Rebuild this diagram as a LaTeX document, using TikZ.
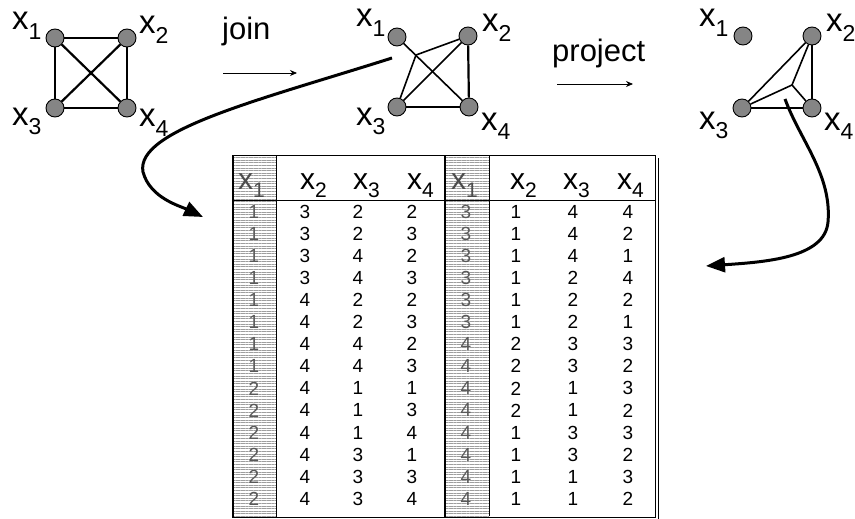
\documentclass[tikz,border=0pt]{standalone}
\usepackage{fontspec}
\setmainfont{Liberation Sans}
\usetikzlibrary{arrows.meta,patterns.meta}

% variable with a dropped subscript, Helvetica style
\newcommand{\vlab}[3]{{\fontsize{#1}{#1}\selectfont x\raisebox{-0.30em}{\fontsize{#2}{#2}\selectfont #3}}}

\begin{document}
\begin{tikzpicture}[x=1pt,y=-1pt,
  vertex/.style={circle,draw=black,line width=0.9pt,fill=black!48,minimum size=18pt,inner sep=0pt},
  edge/.style={line width=2.2pt},
  thinedge/.style={line width=1.6pt},
  vlabel/.style={anchor=base west,inner sep=0pt},
  bigarrow/.style={line width=3pt,-{Triangle[length=19pt,width=15pt]}},
  oparrow/.style={line width=0.8pt,-{Stealth[length=7pt,width=6pt]}},
  oplabel/.style={font=\fontsize{31}{31}\selectfont,inner sep=0pt},
  cell/.style={font=\fontsize{19}{19}\selectfont,inner sep=0pt},
  ghost/.style={font=\fontsize{19}{19}\selectfont,inner sep=0pt,text=black!65},
  hatch/.style={pattern={Lines[angle=0,distance=2.6pt,line width=0.8pt]},pattern color=black!38},
  frame/.style={line width=1pt}
]
\useasboundingbox (0,0) rectangle (855,519);

% ---------- graph before the join ----------
\node[vertex] (a1) at (55,38) {};
\node[vertex] (a2) at (127,38) {};
\node[vertex] (a3) at (55,108) {};
\node[vertex] (a4) at (127,108) {};
\draw[edge] (a1) -- (a2);
\draw[edge] (a1) -- (a3);
\draw[edge] (a2) -- (a4);
\draw[edge] (a3) -- (a4);
\draw[edge] (a1) -- (a4);
\draw[edge] (a2) -- (a3);
\node[vlabel] (la1) at (12,30) {\vlab{33}{23}{1}};
\node[vlabel] (la2) at (139,34) {\vlab{33}{23}{2}};
\node[vlabel] (la3) at (12,125) {\vlab{33}{23}{3}};
\node[vlabel] (la4) at (139,127) {\vlab{33}{23}{4}};

% ---------- join ----------
\node[oplabel,anchor=base west] (join) at (222,40) {join};
\coordinate (j0) at (223,73);
\coordinate (j1) at (297,73);
\draw[oparrow] (j0) -- (j1);

% ---------- graph after the join ----------
\node[vertex] (b1) at (397,37) {};
\node[vertex] (b2) at (468,36) {};
\node[vertex] (b3) at (397,107) {};
\node[vertex] (b4) at (469,107) {};
\coordinate (bp) at (416,55);
\draw[thinedge] (b1) -- (b4);
\draw[thinedge] (b2) -- (b3);
\draw[thinedge] (b2) -- (bp) -- (b3);
\draw[edge] (b2) -- (b4);
\draw[edge] (b3) -- (b4);
\node[vlabel] (lb1) at (356,27) {\vlab{33}{23}{1}};
\node[vlabel] (lb2) at (482,32) {\vlab{33}{23}{2}};
\node[vlabel] (lb3) at (356,125) {\vlab{33}{23}{3}};
\node[vlabel] (lb4) at (481,130) {\vlab{33}{23}{4}};

% ---------- project ----------
\node[oplabel,anchor=base west] (project) at (552,62) {project};
\coordinate (p0) at (557,84);
\coordinate (p1) at (633,84);
\draw[oparrow] (p0) -- (p1);

% ---------- graph after the projection ----------
\node[vertex] (c1) at (743,36) {};
\node[vertex] (c2) at (812,36) {};
\node[vertex] (c3) at (742,108) {};
\node[vertex] (c4) at (812,108) {};
\coordinate (cq) at (792,85);
\draw[thinedge] (c2) -- (c3);
\draw[thinedge] (c2) -- (cq) -- (c3);
\draw[thinedge] (cq) -- (c4);
\draw[edge] (c2) -- (c4);
\draw[edge] (c3) -- (c4);
\node[vlabel] (lc1) at (699,27) {\vlab{33}{23}{1}};
\node[vlabel] (lc2) at (826,32) {\vlab{33}{23}{2}};
\node[vlabel] (lc3) at (699,129) {\vlab{33}{23}{3}};
\node[vlabel] (lc4) at (824,130) {\vlab{33}{23}{4}};

% ---------- relation tables ----------
% shaded key columns
\fill[hatch] (233,155) rectangle (276,517);
\fill[hatch] (446,155) rectangle (489,516);
% frames
\draw[frame] (232,155) rectangle (655,517);
\draw[line width=2pt] (232.5,155) -- (232.5,517);
\draw[frame] (276,155) -- (276,517);
\draw[line width=2pt] (445,155) -- (445,517);
\draw[frame] (489,155) -- (489,516);
\draw[frame] (232,200) -- (655,200);
\draw[frame] (658,158) -- (658,520);

% headers
\node[vlabel,text=black!70] (hl1) at (238,189) {\vlab{30}{21}{1}};
\node[vlabel] (hl2) at (300,189) {\vlab{30}{21}{2}};
\node[vlabel] (hl3) at (353,189) {\vlab{30}{21}{3}};
\node[vlabel] (hl4) at (407,189) {\vlab{30}{21}{4}};
\node[vlabel,text=black!70] (hr1) at (451,189) {\vlab{30}{21}{1}};
\node[vlabel] (hr2) at (510,189) {\vlab{30}{21}{2}};
\node[vlabel] (hr3) at (563,189) {\vlab{30}{21}{3}};
\node[vlabel] (hr4) at (617,189) {\vlab{30}{21}{4}};

% tuples of the joined relation
\foreach \a/\b/\c/\d [count=\i] in {1/3/2/2,1/3/2/3,1/3/4/2,1/3/4/3,1/4/2/2,1/4/2/3,1/4/4/2,
    1/4/4/3,2/4/1/1,2/4/1/3,2/4/1/4,2/4/3/1,2/4/3/3,2/4/3/4}{
  \pgfmathsetmacro{\yy}{212+(\i-1)*22.05}
  \node[ghost] (L\i-1) at (254,\yy) {\a};
  \node[cell] (L\i-2) at (305,\yy) {\b};
  \node[cell] (L\i-3) at (358,\yy) {\c};
  \node[cell] (L\i-4) at (412,\yy) {\d};
}
\foreach \a/\b/\c/\d [count=\i] in {3/1/4/4,3/1/4/2,3/1/4/1,3/1/2/4,3/1/2/2,3/1/2/1,4/2/3/3,
    4/2/3/2,4/2/1/3,4/2/1/2,4/1/3/3,4/1/3/2,4/1/1/3,4/1/1/2}{
  \pgfmathsetmacro{\yy}{212+(\i-1)*22.05}
  \node[ghost] (R\i-1) at (466,\yy) {\a};
  \node[cell] (R\i-2) at (516,\yy) {\b};
  \node[cell] (R\i-3) at (573,\yy) {\c};
  \node[cell] (R\i-4) at (628,\yy) {\d};
}

% ---------- curved pointers from graphs to tables ----------
\coordinate (s1) at (392,58);
\coordinate (t1) at (203,217);
\draw[bigarrow] (s1) .. controls (260,100) and (135,130) .. (143,172)
  .. controls (150,198) and (180,206) .. (t1);
\coordinate (s2) at (785,99);
\coordinate (t2) at (706,266);
\draw[bigarrow] (s2) .. controls (800,140) and (832,175) .. (828,222)
  .. controls (825,258) and (765,262) .. (t2);
\end{tikzpicture}
\end{document}
